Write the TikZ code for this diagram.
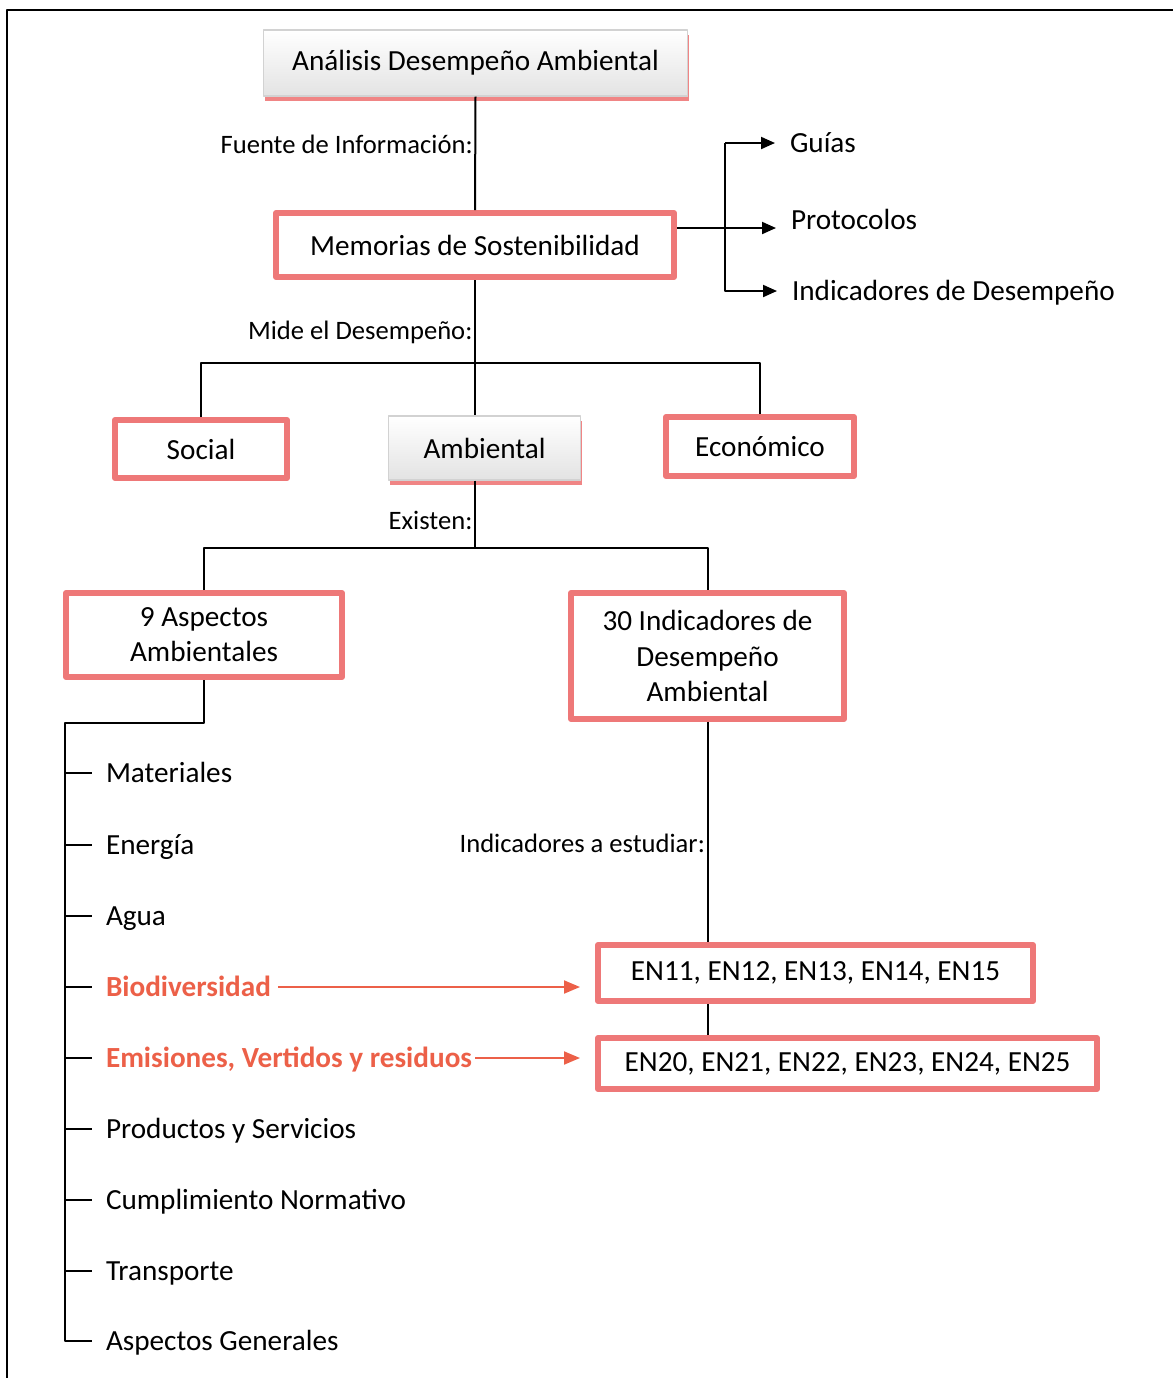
\documentclass[tikz,border=0pt]{standalone}
\usepackage{fontspec}
\setmainfont{Carlito}
\usetikzlibrary{positioning,arrows.meta,shadows,calc}
\definecolor{boxred}{RGB}{238,120,120}
\definecolor{hired}{RGB}{236,96,72}
\begin{document}
\begin{tikzpicture}[x=0.5pt,y=-0.5pt,line join=round,>={Triangle[length=7pt,width=6pt]},line width=1pt]
	\tikzset{
		redbox/.style={draw=boxred,line width=3pt,fill=white,align=center,inner sep=0pt,font=\fontsize{14.6}{17.6}\selectfont},
		graybox/.style={draw=gray!35,line width=0.6pt,top color=white,bottom color=gray!22,align=center,inner sep=0pt,
			font=\fontsize{14.6}{17.6}\selectfont,drop shadow={fill=boxred,opacity=0.9,shadow xshift=0.7pt,shadow yshift=-2.3pt}},
		lbl/.style={font=\fontsize{13.3}{16}\selectfont,inner sep=0.8pt,anchor=east},
		item/.style={font=\fontsize{14.6}{17.6}\selectfont,inner sep=0pt,anchor=west,text height=12pt,text depth=2.6pt},
		hot/.style={item,font=\fontsize{14.6}{17.6}\selectfont\bfseries,text=hired},
		redarrow/.style={->,draw=hired,>={Triangle[length=8pt,width=6.5pt]}}
	}
	\useasboundingbox (0,0) rectangle (1173,1378);
	\begin{scope}
		\clip (0,0) rectangle (1173,1378);
		\draw[line width=1.2pt] (7,10) rectangle (1190,1395);
	\end{scope}
	% boxes
	\node[graybox,minimum width=212pt,minimum height=33pt] (ana) at (475.5,63) {Análisis Desempeño Ambiental};
	\node[redbox,minimum width=199pt,minimum height=32pt] (mem) at (475,245) {Memorias de Sostenibilidad};
	\node[redbox,minimum width=86pt,minimum height=29pt] (soc) at (201,449) {Social};
	\node[graybox,minimum width=96pt,minimum height=32pt] (amb) at (484.5,448) {Ambiental};
	\node[redbox,minimum width=94pt,minimum height=29.5pt] (eco) at (760,446.5) {Económico};
	\node[redbox,minimum width=138pt,minimum height=42pt] (asp) at (204,635) {9 Aspectos\\Ambientales};
	\node[redbox,minimum width=136.5pt,minimum height=63pt] (ind) at (707.5,656) {30 Indicadores de\\Desempeño\\Ambiental};
	\node[redbox,minimum width=217.5pt,minimum height=28pt] (en1) at (815.5,973) {EN11, EN12, EN13, EN14, EN15};
	\node[redbox,minimum width=249.5pt,minimum height=25.5pt] (en2) at (847.5,1063.5) {EN20, EN21, EN22, EN23, EN24, EN25};
	% tree
	\draw (ana.south) -- (mem.north) node[lbl,pos=0.42] (fue) {Fuente de Información:};
	\draw (mem.south) -- ++(0,83) coordinate (j1) node[lbl,pos=0.63] (mid) {Mide el Desempeño:};
	\draw (soc.north) |- (j1) -| (eco.north);
	\draw (j1) -- (j1 |- amb.north);
	\draw (amb.south -| j1) -- ++(0,67) coordinate (j2) node[lbl,pos=0.6] (exi) {Existen:};
	\draw (asp.north) |- (j2) -| (ind.north);
	% fork to the right
	\coordinate (fork) at (725,228);
	\node[item] (gui) at (789,143) {Guías};
	\node[item] (pro) at (790,220) {Protocolos};
	\node[item] (ide) at (791,291) {Indicadores de Desempeño};
	\draw[->,shorten >=7pt] (mem.east |- fork) -- (fork -| pro.west);
	\draw[->,shorten >=7pt] (fork |- gui.west) -- (gui.west);
	\draw[->,shorten >=7pt] (fork |- gui.west) |- (ide.west);
	% list of aspects
	\coordinate (lst) at (65,723);
	\foreach \y/\nm/\sty/\txt in {773/mat/item/Materiales,845/ene/item/Energía,916/agu/item/Agua,
		987/bio/hot/Biodiversidad,1058/emi/hot/{Emisiones, Vertidos y residuos},1129/prs/item/Productos y Servicios,
		1200/cum/item/Cumplimiento Normativo,1271/tra/item/Transporte,1341/gen/item/Aspectos Generales}
		\node[\sty] (\nm) at (105,\y) {\txt};
	\foreach \nm in {mat,ene,agu,bio,emi,prs,cum,tra}
		\draw[shorten >=6.5pt] (lst |- \nm.west) -- (\nm.west);
	\draw[shorten >=6.5pt] (asp.south) |- (lst) |- (gen.west);
	\draw[redarrow,shorten <=3pt,shorten >=7.5pt] (bio.east) -- (bio.east -| en1.west);
	\draw[redarrow,shorten <=1pt,shorten >=7.5pt] (emi.east) -- (emi.east -| en2.west);
	% indicators
	\draw (ind.south) -- (ind.south |- en1.north) node[lbl,pos=0.55] (est) {Indicadores a estudiar:};
	\draw (ind.south |- en1.south) -- (ind.south |- en2.north);
\end{tikzpicture}
\end{document}
